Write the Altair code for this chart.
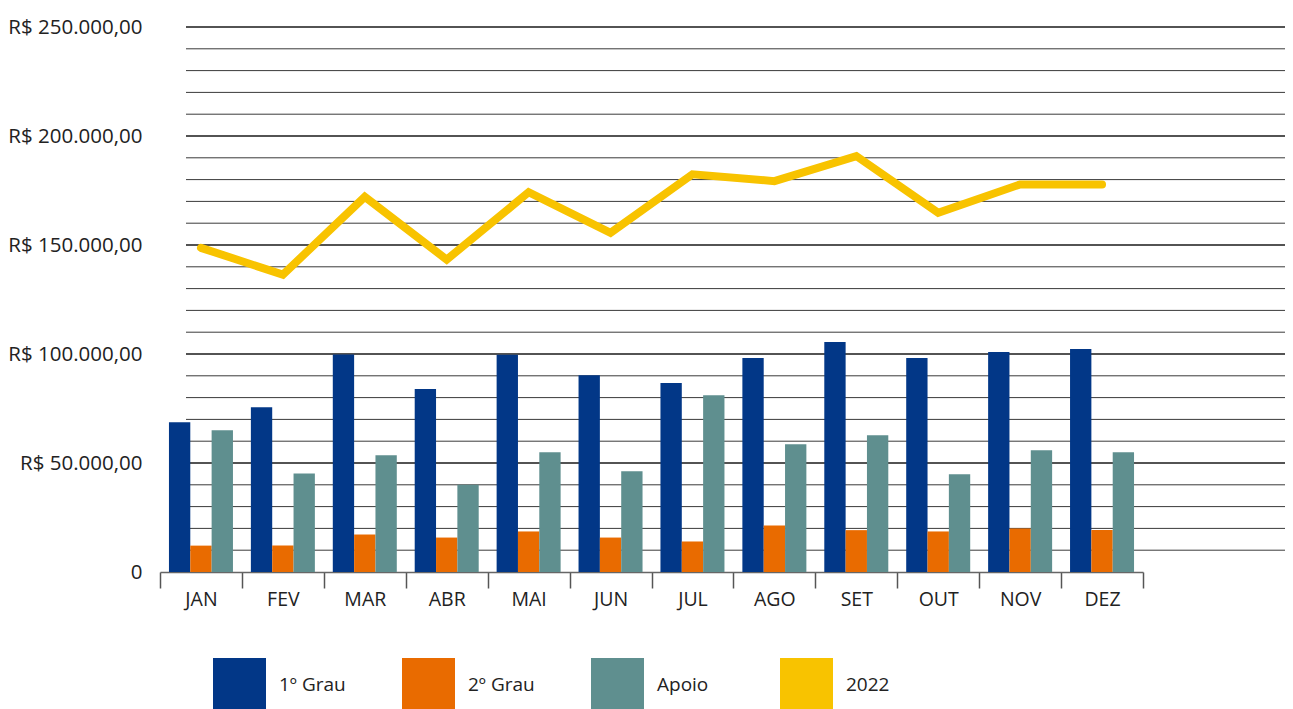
import altair as alt
import pandas as pd

months = ["JAN", "FEV", "MAR", "ABR", "MAI", "JUN", "JUL", "AGO", "SET", "OUT", "NOV", "DEZ"]
series = ["1º Grau", "2º Grau", "Apoio", "2022"]
colors = ["#023787", "#E96B00", "#5F8F8F", "#F8C300"]

grau1 = [68700, 75600, 99800, 83900, 99700, 90300, 86700, 98200, 105500, 98200, 100900, 102300]
grau2 = [12100, 12100, 17200, 15800, 18600, 15800, 14000, 21300, 19200, 18600, 19900, 19300]
apoio = [65000, 45200, 53500, 40000, 54900, 46200, 81100, 58600, 62700, 44800, 55800, 54900]
total2022 = [148700, 136400, 172100, 143300, 174200, 155600, 182400, 179300, 190800, 164800, 177800, 177800]

y_ticks = [0, 50000, 100000, 150000, 200000, 250000]
grid_values = list(range(10000, 250001, 10000))

bars_rows = []
for name, vals in zip(series[:3], [grau1, grau2, apoio]):
    for m, v in zip(months, vals):
        bars_rows.append({"month": m, "serie": name, "valor": v})
bars_df = pd.DataFrame(bars_rows)
line_df = pd.DataFrame({"month": months, "valor": total2022})
grid_df = pd.DataFrame({
    "v": grid_values,
    "w": [1.6 if g % 50000 == 0 else 1.0 for g in grid_values],
    "c": ["#1a1a1a" if g % 50000 == 0 else "#3a3a3a" for g in grid_values],
})

FONT = "Open Sans"
W, H = 1125, 545
AXIS_W = 983

x_scale = alt.Scale(range=[0, AXIS_W], paddingInner=0, paddingOuter=0)
y_scale = alt.Scale(domain=[0, 250000], nice=False)

x_axis = alt.Axis(
    title=None, labelAngle=0, tickBand="extent", tickSize=16, ticks=True,
    domainColor="#666666", domainWidth=1.5, tickColor="#555555", tickWidth=1.5,
    labelFont=FONT, labelFontSize=19.5, labelColor="#222222", labelPadding=2, grid=False,
)
y_axis = alt.Axis(
    title=None, values=y_ticks, domain=False, ticks=False, grid=False,
    labelFont=FONT, labelFontSize=20.5, labelColor="#222222", labelPadding=18,
    labelExpr="datum.value == 0 ? '0' : 'R$ ' + floor(datum.value / 1000) + '.000,00'",
)

grid = alt.Chart(grid_df).mark_rule().encode(
    y=alt.Y("v:Q", scale=y_scale, axis=y_axis),
    x=alt.value(26),
    x2=alt.value(W),
    strokeWidth=alt.StrokeWidth("w:Q", scale=None),
    color=alt.Color("c:N", scale=None),
)

bars = alt.Chart(bars_df).mark_bar().encode(
    x=alt.X("month:N", sort=months, scale=x_scale, axis=x_axis),
    xOffset=alt.XOffset("serie:N", sort=series[:3],
                        scale=alt.Scale(paddingInner=0, paddingOuter=0.42)),
    y=alt.Y("valor:Q", scale=y_scale, axis=y_axis),
    color=alt.Color(
        "serie:N",
        scale=alt.Scale(domain=series, range=colors),
        legend=alt.Legend(
            title=None, orient="none", legendX=53, legendY=631,
            direction="horizontal", columns=4, gridAlign="all", columnPadding=56,
            symbolType="square", symbolSize=2809, symbolStrokeWidth=0,
            labelFont=FONT, labelFontSize=19, labelColor="#222222",
            labelOffset=13, padding=0,
        ),
    ),
)

line = alt.Chart(line_df).mark_line(
    color="#F8C300", strokeWidth=8, strokeCap="round", strokeJoin="miter"
).encode(
    x=alt.X("month:N", sort=months, scale=x_scale, axis=x_axis),
    y=alt.Y("valor:Q", scale=y_scale, axis=y_axis),
)

chart = alt.layer(grid, bars, line).properties(
    width=W, height=H,
    autosize="none",
    padding={"left": 152, "top": 19, "right": 0, "bottom": 137},
).configure_view(stroke=None)

chart.save("out.html", embed_options={"renderer": "svg", "actions": False})
